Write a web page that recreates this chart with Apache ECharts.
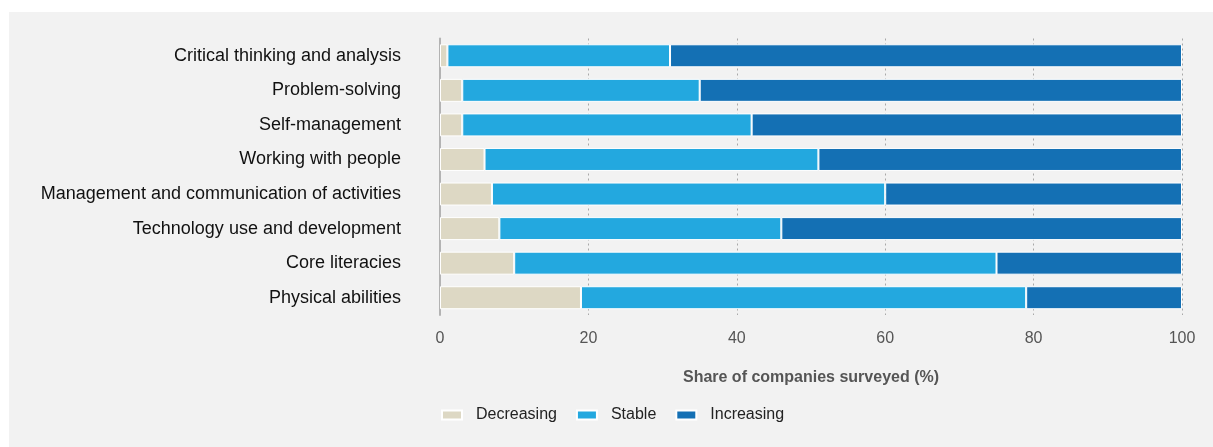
<!DOCTYPE html>
<html>
<head>
<meta charset="utf-8">
<script src="https://cdn.jsdelivr.net/npm/echarts@6/dist/echarts.min.js"></script>
<style>
  html, body { margin: 0; padding: 0; background: #ffffff; width: 1213px; height: 447px; overflow: hidden; }
  #chart { position: absolute; left: 9px; top: 12px; width: 1204px; height: 435px; background: #f2f2f2; }
</style>
</head>
<body>
<div id="chart"></div>
<script>
const categories = [
  "Critical thinking and analysis",
  "Problem-solving",
  "Self-management",
  "Working with people",
  "Management and communication of activities",
  "Technology use and development",
  "Core literacies",
  "Physical abilities"
];
const decreasing = [1, 3, 3, 6, 7, 8, 10, 19];
const stable = [30, 32, 39, 45, 53, 38, 65, 60];
const increasing = [69, 65, 58, 49, 40, 54, 25, 21];
const seriesNames = ["Decreasing", "Stable", "Increasing"];
const colors = ["#ddd8c4", "#23a8df", "#1470b4"];
const xTicks = [0, 20, 40, 60, 80, 100];

const FONT = "'Liberation Sans', Arial, Helvetica, sans-serif";
const chart = echarts.init(document.getElementById('chart'), null, { renderer: 'canvas' });

const dataSets = [decreasing, stable, increasing];
const series = seriesNames.map((name, i) => ({
  name: name,
  type: 'bar',
  stack: 'total',
  barWidth: 23,
  data: dataSets[i],
  itemStyle: { color: colors[i], borderColor: '#ffffff', borderWidth: 1 },
  emphasis: { disabled: true }
}));

chart.setOption({
  animation: false,
  backgroundColor: 'transparent',
  textStyle: { fontFamily: FONT },
  grid: { left: 431, right: 31, top: 26.5, bottom: 132, containLabel: false },
  legend: {
    data: seriesNames,
    left: 427,
    top: 390,
    itemWidth: 20,
    itemHeight: 9,
    itemGap: 19,
    icon: 'rect',
    textStyle: { color: '#222', fontSize: 16, fontFamily: FONT, padding: [0, 0, 0, 9] }
  },
  xAxis: {
    type: 'value',
    min: xTicks[0],
    max: xTicks[xTicks.length - 1],
    interval: 20,
    name: 'Share of companies surveyed (%)',
    nameLocation: 'middle',
    nameGap: 55,
    nameTextStyle: { color: '#555', fontSize: 16, fontWeight: 'bold', fontFamily: FONT },
    axisLine: { show: false },
    axisTick: { show: false },
    axisLabel: { color: '#555', fontSize: 16, margin: 16, fontFamily: FONT },
    splitLine: { show: true, lineStyle: { color: '#a8a8a8', type: [2, 3], width: 1 } }
  },
  yAxis: {
    type: 'category',
    data: categories,
    inverse: true,
    axisLine: { show: true, lineStyle: { color: '#b3b3b3', width: 2 } },
    axisTick: { show: false },
    axisLabel: { color: '#111', fontSize: 18, margin: 39, fontFamily: FONT }
  },
  series: series
});
</script>
</body>
</html>
